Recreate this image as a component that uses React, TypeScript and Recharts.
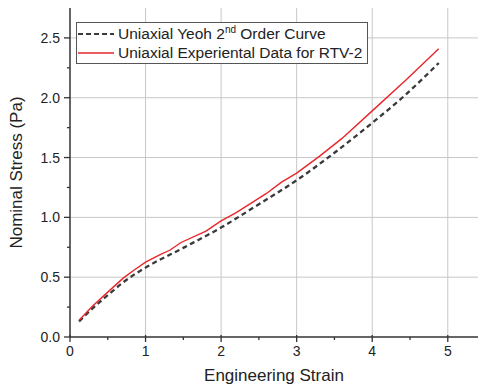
import React from 'react';
import { LineChart, Line, XAxis, YAxis, CartesianGrid } from 'recharts';

const yeohStrain = [0.12, 0.3, 0.5, 0.7, 1.0, 1.5, 2.0, 2.5, 3.0, 3.5, 4.0, 4.45, 4.88];
const yeohStress = [0.13, 0.24, 0.35, 0.455, 0.58, 0.745, 0.915, 1.11, 1.31, 1.54, 1.79, 2.03, 2.29];

const expStrain = [0.12, 0.3, 0.5, 0.7, 0.85, 1.0, 1.2, 1.32, 1.47, 1.8, 2.0, 2.2, 2.45, 2.6, 2.8, 3.0, 3.3, 3.6, 4.0, 4.45, 4.88];
const expStress = [0.14, 0.26, 0.375, 0.49, 0.56, 0.625, 0.69, 0.725, 0.79, 0.885, 0.97, 1.04, 1.14, 1.2, 1.295, 1.37, 1.51, 1.66, 1.89, 2.15, 2.41];

const xTicks = [0, 0.5, 1, 1.5, 2, 2.5, 3, 3.5, 4, 4.5, 5];
const yTicks = [0, 0.25, 0.5, 0.75, 1, 1.25, 1.5, 1.75, 2, 2.25, 2.5];
const xGrid = [1, 2, 3, 4, 5];
const yGrid = [0.5, 1, 1.5, 2, 2.5];
const X_MAX = 5.4;
const Y_MAX = 2.75;

const yeohData = yeohStrain.map((x, i) => ({ x, y: yeohStress[i] }));
const expData = expStrain.map((x, i) => ({ x, y: expStress[i] }));

const FONT = '"Liberation Sans", Arial, sans-serif';

const XTick = (props: any) => {
  const { x, y, payload } = props;
  const major = Math.abs(payload.value - Math.round(payload.value)) < 1e-6;
  return (
    <g>
      <line x1={x} x2={x} y1={y - (major ? 2 : 0)} y2={y + (major ? 5 : 3)} stroke="#333" strokeWidth={1.3} />
      {major && (
        <text x={x} y={y + 19} textAnchor="middle" fontFamily={FONT} fontSize={14} fill="#222">
          {payload.value}
        </text>
      )}
    </g>
  );
};

const YTick = (props: any) => {
  const { x, y, payload } = props;
  const major = Math.abs(payload.value * 2 - Math.round(payload.value * 2)) < 1e-6;
  return (
    <g>
      <line x1={x - (major ? 6 : 3)} x2={x} y1={y} y2={y} stroke="#333" strokeWidth={1.3} />
      {major && (
        <text x={x - 10} y={y + 5} textAnchor="end" fontFamily={FONT} fontSize={14} fill="#222">
          {payload.value.toFixed(1)}
        </text>
      )}
    </g>
  );
};

const LegendBox = () => (
  <div
    style={{
      position: 'absolute',
      left: 76,
      top: 22,
      border: '1px solid #555',
      background: '#fff',
      padding: '1px 5px 1px 1px',
      fontFamily: FONT,
      fontSize: 15.5,
      color: '#222',
      lineHeight: '19px',
      whiteSpace: 'nowrap',
    }}
  >
    <div style={{ display: 'flex', alignItems: 'center' }}>
      <svg width={36} height={10} style={{ marginRight: 4 }}>
        <line x1={0} x2={36} y1={5} y2={5} stroke="#3a3a3a" strokeWidth={2.2} strokeDasharray="5 3" />
      </svg>
      <span>
        Uniaxial Yeoh 2<sup style={{ fontSize: 10, lineHeight: 0 }}>nd</sup> Order Curve
      </span>
    </div>
    <div style={{ display: 'flex', alignItems: 'center' }}>
      <svg width={36} height={10} style={{ marginRight: 4 }}>
        <line x1={0} x2={36} y1={5} y2={5} stroke="#e8262a" strokeWidth={1.4} />
      </svg>
      <span>Uniaxial Experiental Data for RTV-2</span>
    </div>
  </div>
);

export default function App() {
  return (
    <div style={{ position: 'absolute', left: 0, top: 0, width: 478, height: 387, background: '#fff' }}>
      <LineChart width={478} height={387} margin={{ top: 8, right: 0, left: 0, bottom: 0 }}>
        <CartesianGrid
          stroke="#c8c8c8"
          strokeWidth={1}
          verticalValues={xGrid}
          horizontalValues={yGrid}
        />
        <XAxis
          xAxisId="top"
          orientation="top"
          dataKey="x"
          type="number"
          domain={[0, X_MAX]}
          height={0}
          tick={false}
          tickLine={false}
          axisLine={{ stroke: '#333', strokeWidth: 1.5 }}
        />
        <XAxis
          dataKey="x"
          type="number"
          domain={[0, X_MAX]}
          ticks={xTicks}
          allowDataOverflow
          interval={0}
          height={50}
          tickSize={0}
          tickMargin={0}
          tickLine={false}
          tick={<XTick />}
          axisLine={{ stroke: '#333', strokeWidth: 1.5 }}
          label={{ value: 'Engineering Strain', position: 'insideBottom', offset: 6, style: { fontFamily: FONT, fontSize: 17, fill: '#222' } }}
        />
        <YAxis
          dataKey="y"
          type="number"
          domain={[0, Y_MAX]}
          ticks={yTicks}
          allowDataOverflow
          interval={0}
          width={70}
          tickSize={0}
          tickMargin={0}
          tickLine={false}
          tick={<YTick />}
          axisLine={{ stroke: '#333', strokeWidth: 1.5 }}
          label={{ value: 'Nominal Stress (Pa)', angle: -90, position: 'insideLeft', offset: 16, style: { textAnchor: 'middle', fontFamily: FONT, fontSize: 17, fill: '#222' } }}
        />
        <Line data={yeohData} dataKey="y" type="monotone" stroke="#3a3a3a" strokeWidth={2.3} strokeDasharray="5 3.5" dot={false} isAnimationActive={false} />
        <Line data={expData} dataKey="y" type="linear" stroke="#e8262a" strokeWidth={1.4} dot={false} isAnimationActive={false} />
      </LineChart>
      <LegendBox />
    </div>
  );
}
